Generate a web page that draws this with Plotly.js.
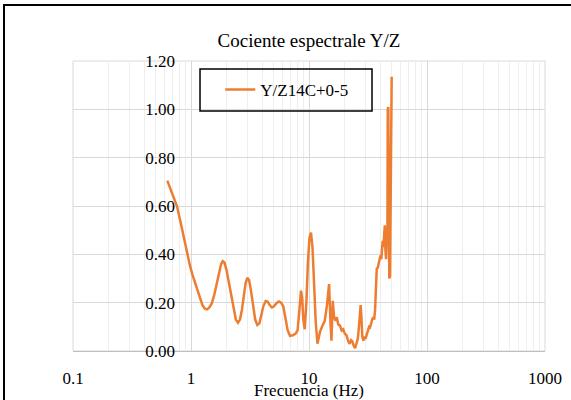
<!DOCTYPE html>
<html>
<head>
<meta charset="utf-8">
<script src="https://cdn.plot.ly/plotly-3.0.1.min.js"></script>
<style>html,body{margin:0;padding:0;background:#fff;}#chart{width:571px;height:400px;}</style>
</head>
<body>
<div id="chart"></div>
<script>
const freq = [0.63,0.67,0.72,0.76,0.81,0.86,0.92,0.98,1.03,1.08,1.13,1.19,1.25,1.31,1.37,1.43,1.5,1.57,1.65,1.73,1.8,1.86,1.92,2.0,2.1,2.2,2.3,2.4,2.5,2.6,2.7,2.8,2.9,3.0,3.1,3.2,3.36,3.5,3.65,3.8,3.95,4.1,4.3,4.45,4.65,4.85,5.05,5.3,5.55,5.8,6.05,6.3,6.6,6.9,7.3,7.7,8.0,8.3,8.55,8.75,8.95,9.2,9.5,9.8,10.1,10.4,10.7,11.0,11.4,11.8,12.4,13.0,13.6,14.2,14.8,15.2,15.5,15.9,16.3,16.8,17.2,17.7,18.3,18.9,19.5,20.1,20.8,21.5,22.1,22.7,23.3,24.0,24.6,25.2,25.9,26.5,27.0,27.4,27.8,28.3,28.9,29.5,30.1,30.8,31.5,32.3,32.9,33.6,34.3,35.0,35.7,36.3,36.9,37.5,38.3,39.0,39.7,40.3,41.0,41.6,42.1,42.7,43.3,43.9,44.4,45.0,45.6,46.2,46.5,47.0,47.9,48.6,50.2];
const ratio = [0.705,0.672,0.63,0.60,0.54,0.477,0.41,0.353,0.315,0.284,0.25,0.215,0.19,0.175,0.172,0.18,0.197,0.23,0.275,0.325,0.36,0.372,0.366,0.335,0.28,0.215,0.165,0.13,0.117,0.13,0.17,0.23,0.28,0.303,0.295,0.26,0.19,0.13,0.108,0.115,0.15,0.185,0.207,0.205,0.19,0.18,0.185,0.198,0.205,0.2,0.185,0.14,0.085,0.063,0.065,0.072,0.085,0.17,0.25,0.22,0.13,0.09,0.2,0.37,0.47,0.49,0.43,0.3,0.12,0.03,0.08,0.105,0.125,0.19,0.277,0.12,0.043,0.208,0.14,0.125,0.14,0.11,0.105,0.085,0.09,0.072,0.065,0.04,0.03,0.045,0.04,0.02,0.012,0.03,0.05,0.10,0.17,0.19,0.14,0.06,0.043,0.06,0.05,0.07,0.08,0.10,0.098,0.12,0.13,0.14,0.13,0.17,0.25,0.34,0.345,0.36,0.375,0.395,0.38,0.42,0.456,0.43,0.46,0.52,0.42,0.38,0.46,0.50,1.00,1.01,0.30,0.31,1.135];

const seriesName = "Y/Z14C+0-5";
const chartTitle = "Cociente espectrale Y/Z";
const xTitle = "Frecuencia (Hz)";
const xTickVals = [0.1, 1, 10, 100, 1000];
const xTickText = ["0.1", "1", "10", "100", "1000"];
const xMinorVals = [0.2,0.3,0.4,0.5,0.6,0.7,0.8,0.9,2,3,4,5,6,7,8,9,20,30,40,50,60,70,80,90,200,300,400,500,600,700,800,900];

const font = "Liberation Serif";

const trace = {
  x: freq, y: ratio, type: "scatter", mode: "lines", name: seriesName,
  line: {color: "#ED7D31", width: 2.5}
};

const layout = {
  width: 571, height: 400,
  margin: {l: 73, r: 26, t: 61, b: 49},
  paper_bgcolor: "#fff", plot_bgcolor: "#fff",
  font: {family: font, color: "#000", size: 17},
  title: {text: chartTitle, font: {family: font, size: 19, color: "#000"}, x: 0.5, xref: "paper", xanchor: "center", y: 0.9, yref: "container", yanchor: "middle"},
  showlegend: true,
  legend: {x: 0.312, y: 0.9, xanchor: "left", yanchor: "middle", bgcolor: "rgba(0,0,0,0)", borderwidth: 0, font: {family: font, size: 17, color: "#000"}},
  xaxis: {
    type: "log", range: [-1, 3], tickmode: "array", tickvals: xTickVals, ticktext: xTickText,
    showgrid: true, gridcolor: "#d9d9d9", gridwidth: 1,
    minor: {tickmode: "array", tickvals: xMinorVals, showgrid: true, gridcolor: "#eeeeee", gridwidth: 1, ticks: ""},
    ticks: "", ticklabelstandoff: 12, showline: true, linecolor: "#bfbfbf", linewidth: 1, mirror: false,
    zeroline: false, tickfont: {family: font, size: 17, color: "#000"}
  },
  yaxis: {
    range: [0, 1.2], dtick: 0.2, tick0: 0, tickformat: ".2f",
    showgrid: true, gridcolor: "#d9d9d9", gridwidth: 1, zeroline: false,
    anchor: "free", position: 0.2161, showline: false, ticks: "",
    tickfont: {family: font, size: 17, color: "#000"}
  },
  shapes: [
    {type: "rect", xref: "paper", yref: "paper", x0: 0, x1: 1, y0: 0, y1: 1, line: {color: "#d9d9d9", width: 1}, layer: "below"},
    {type: "rect", xref: "paper", yref: "paper", x0: 0.2691, x1: 0.6335, y0: 0.8276, y1: 0.9724, line: {color: "#000", width: 1.5}, fillcolor: "rgba(0,0,0,0)", layer: "above"},
    {type: "rect", xref: "paper", yref: "paper", x0: -0.1462, x1: 1.2, y0: -0.25, y1: 1.1931, line: {color: "#000", width: 2}, fillcolor: "rgba(0,0,0,0)", layer: "above"}
  ],
  annotations: [
    {text: xTitle, xref: "paper", yref: "paper", x: 0.5, y: -0.1345, xanchor: "center", yanchor: "middle", showarrow: false, font: {family: font, size: 17, color: "#000"}}
  ]
};

Plotly.newPlot("chart", [trace], layout, {displayModeBar: false, staticPlot: true});
</script>
</body>
</html>
